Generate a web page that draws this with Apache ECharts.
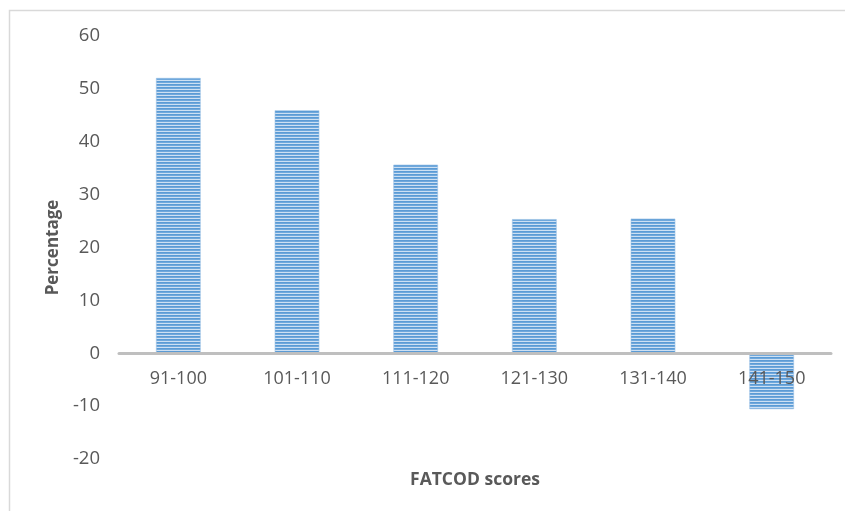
<!DOCTYPE html>
<html>
<head>
<meta charset="utf-8">
<style>
  html, body { margin: 0; padding: 0; background: #ffffff; }
  #chart { width: 845px; height: 511px; }
</style>
<script src="https://cdn.jsdelivr.net/npm/echarts@6/dist/echarts.min.js"></script>
</head>
<body>
<div id="chart"></div>
<script>
// FATCOD score bands and the percentage for each band
const scoreBands = ['91-100', '101-110', '111-120', '121-130', '131-140', '141-150'];
const percentages = [52.1, 46.0, 35.7, 25.4, 25.5, -10.6];
const yTickMin = -20;
const yTickMax = 60;
const yTickStep = 10;

// Plot box
const GRID_TOP = 36;
const GRID_BOTTOM = 52;
const CHART_H = 511;

// Horizontal striped fill for the bars
function stripePattern() {
  const c = document.createElement('canvas');
  c.width = 4;
  c.height = 3;
  const ctx = c.getContext('2d');
  const rows = ['#5b9bd5', '#6fa8dc', '#cde0f3'];
  rows.forEach((col, i) => {
    ctx.fillStyle = col;
    ctx.fillRect(0, i, 4, 1);
  });
  return c;
}

// The category axis sits on the zero line: shift it up from the plot bottom
const plotH = CHART_H - GRID_TOP - GRID_BOTTOM;
const zeroShift = plotH * (0 - yTickMin) / (yTickMax - yTickMin);

const FONT = '"Open Sans", "Liberation Sans", sans-serif';
const chart = echarts.init(document.getElementById('chart'), null, { renderer: 'canvas' });

chart.setOption({
  animation: false,
  backgroundColor: '#ffffff',
  grid: {
    left: 119, right: 14, top: GRID_TOP, bottom: GRID_BOTTOM,
    containLabel: false, outerBoundsMode: 'none'
  },
  graphic: [{
    type: 'polyline',
    shape: { points: [[9.5, 520], [9.5, 10.5], [850, 10.5]] },
    style: { stroke: '#d9d9d9', lineWidth: 1.5, fill: null },
    silent: true
  }],
  xAxis: {
    type: 'category',
    data: scoreBands,
    position: 'bottom',
    offset: -zeroShift,
    z: 5,
    name: 'FATCOD scores',
    nameLocation: 'middle',
    nameGap: 118,
    nameTextStyle: { color: '#595959', fontFamily: FONT, fontWeight: 'bold', fontSize: 17.5 },
    axisLine: { show: true, onZero: false, lineStyle: { color: '#bfbfbf', width: 3 } },
    axisTick: { show: false },
    axisLabel: { color: '#595959', fontFamily: FONT, fontSize: 18, margin: 17 },
    splitLine: { show: false }
  },
  yAxis: {
    type: 'value',
    min: yTickMin,
    max: yTickMax,
    interval: yTickStep,
    name: 'Percentage',
    nameLocation: 'middle',
    nameGap: 51,
    nameRotate: 90,
    nameTextStyle: { color: '#595959', fontFamily: FONT, fontWeight: 'bold', fontSize: 17 },
    axisLine: { show: false },
    axisTick: { show: false },
    splitLine: { show: false },
    axisLabel: { color: '#595959', fontFamily: FONT, fontSize: 18.5, margin: 19 }
  },
  series: [{
    type: 'bar',
    data: percentages,
    barWidth: 45,
    z: 2,
    itemStyle: {
      color: { image: stripePattern(), repeat: 'repeat' },
      borderColor: 'rgba(155,194,230,0.6)',
      borderWidth: 1
    }
  }]
});
</script>
</body>
</html>
